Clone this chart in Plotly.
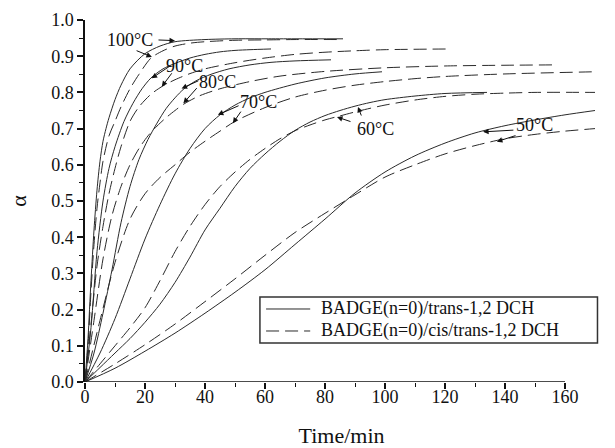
import plotly.graph_objects as go

# Degree of cure alpha versus time for two curing systems at six temperatures
temperatures = ["100°C", "90°C", "80°C", "70°C", "60°C", "50°C"]
series_names = ["BADGE(n=0)/trans-1,2 DCH", "BADGE(n=0)/cis/trans-1,2 DCH"]

# trans-1,2 DCH system (solid lines)
t_s100 = [0, 1, 2, 3, 4, 5, 6, 7, 8, 10, 12, 15, 20, 25, 30, 40, 50, 60, 70, 86]
a_s100 = [0, 0.12, 0.28, 0.42, 0.53, 0.61, 0.665, 0.7, 0.73, 0.78, 0.82, 0.865, 0.907, 0.928, 0.94, 0.946, 0.948, 0.948, 0.948, 0.948]

t_s90 = [0, 2, 4, 6, 8, 10, 13, 16, 19, 22, 26, 30, 35, 40, 45, 50, 55, 62]
a_s90 = [0, 0.15, 0.36, 0.5, 0.59, 0.65, 0.72, 0.77, 0.81, 0.84, 0.865, 0.88, 0.895, 0.905, 0.912, 0.916, 0.918, 0.92]

t_s80 = [0, 3, 6, 9, 12, 15, 18, 21, 24, 27, 30, 33, 37, 42, 48, 55, 62, 70, 82]
a_s80 = [0, 0.08, 0.19, 0.31, 0.44, 0.54, 0.615, 0.67, 0.715, 0.755, 0.785, 0.81, 0.832, 0.85, 0.865, 0.876, 0.883, 0.887, 0.89]

t_s70 = [0, 5, 10, 15, 20, 25, 30, 35, 40, 45, 50, 55, 60, 70, 80, 90, 99]
a_s70 = [0, 0.08, 0.175, 0.285, 0.395, 0.49, 0.575, 0.645, 0.7, 0.738, 0.765, 0.785, 0.8, 0.823, 0.84, 0.851, 0.857]

t_s60 = [0, 5, 10, 15, 20, 25, 30, 35, 40, 45, 50, 55, 60, 65, 70, 75, 80, 85, 90, 95, 100, 110, 120, 134]
a_s60 = [0, 0.04, 0.08, 0.12, 0.165, 0.215, 0.275, 0.345, 0.42, 0.48, 0.54, 0.59, 0.63, 0.665, 0.695, 0.718, 0.736, 0.75, 0.762, 0.772, 0.78, 0.79, 0.797, 0.8]

t_s50 = [0, 10, 20, 30, 40, 50, 60, 70, 80, 90, 100, 110, 120, 130, 140, 150, 160, 170]
a_s50 = [0, 0.038, 0.085, 0.135, 0.19, 0.248, 0.31, 0.38, 0.45, 0.522, 0.58, 0.625, 0.66, 0.688, 0.708, 0.724, 0.738, 0.75]

# cis/trans-1,2 DCH system (dashed lines)
t_d100 = [0, 1, 2, 3, 4, 5, 6, 8, 10, 12, 15, 18, 22, 26, 30, 35, 40, 50, 60, 70, 86]
a_d100 = [0, 0.1, 0.25, 0.38, 0.48, 0.55, 0.61, 0.68, 0.72, 0.76, 0.81, 0.85, 0.895, 0.915, 0.928, 0.936, 0.94, 0.944, 0.945, 0.946, 0.946]

t_d90 = [0, 2, 4, 6, 8, 10, 12, 15, 18, 22, 26, 30, 35, 40, 50, 60, 70, 80, 90, 100, 122]
a_d90 = [0, 0.16, 0.32, 0.43, 0.52, 0.59, 0.65, 0.72, 0.76, 0.795, 0.818, 0.835, 0.852, 0.865, 0.882, 0.895, 0.905, 0.911, 0.915, 0.918, 0.92]

t_d80 = [0, 3, 6, 9, 12, 15, 18, 21, 24, 27, 30, 33, 38, 45, 55, 65, 80, 100, 120, 140, 156]
a_d80 = [0, 0.17, 0.34, 0.46, 0.54, 0.6, 0.645, 0.68, 0.707, 0.73, 0.75, 0.768, 0.79, 0.81, 0.83, 0.845, 0.858, 0.868, 0.873, 0.875, 0.876]

t_d70 = [0, 5, 10, 15, 20, 25, 30, 35, 40, 45, 50, 60, 70, 80, 90, 100, 110, 120, 140, 170]
a_d70 = [0, 0.17, 0.33, 0.45, 0.52, 0.565, 0.6, 0.635, 0.665, 0.693, 0.72, 0.758, 0.787, 0.806, 0.82, 0.83, 0.838, 0.844, 0.851, 0.857]

t_d60 = [0, 5, 10, 15, 20, 25, 30, 35, 40, 45, 50, 55, 60, 65, 70, 75, 80, 85, 90, 95, 100, 110, 120, 130, 140, 150, 170]
a_d60 = [0, 0.05, 0.1, 0.15, 0.205, 0.28, 0.36, 0.43, 0.49, 0.54, 0.58, 0.615, 0.645, 0.672, 0.694, 0.71, 0.724, 0.735, 0.746, 0.756, 0.765, 0.779, 0.789, 0.795, 0.798, 0.8, 0.8]

t_d50 = [0, 10, 20, 30, 40, 50, 60, 70, 80, 90, 100, 110, 120, 130, 140, 150, 160, 170]
a_d50 = [0, 0.05, 0.103, 0.16, 0.222, 0.285, 0.35, 0.413, 0.466, 0.517, 0.566, 0.6, 0.63, 0.653, 0.672, 0.684, 0.693, 0.7]

x_ticks = [0, 20, 40, 60, 80, 100, 120, 140, 160]
y_ticks = [0.0, 0.1, 0.2, 0.3, 0.4, 0.5, 0.6, 0.7, 0.8, 0.9, 1.0]

solid_curves = [(t_s100, a_s100), (t_s90, a_s90), (t_s80, a_s80),
                (t_s70, a_s70), (t_s60, a_s60), (t_s50, a_s50)]
dashed_curves = [(t_d100, a_d100), (t_d90, a_d90), (t_d80, a_d80),
                 (t_d70, a_d70), (t_d60, a_d60), (t_d50, a_d50)]

FONT = "'Liberation Serif', 'Times New Roman', serif"
LINE_COLOR = "#2a2a2a"
INK = "#111"
DASH = "13px,6px"

fig = go.Figure()

for group, curves, dash in [(0, solid_curves, "solid"), (1, dashed_curves, DASH)]:
    for t, a in curves:
        fig.add_trace(go.Scatter(
            x=t, y=a, mode="lines",
            line=dict(color=LINE_COLOR, width=1, dash=dash, shape="spline", smoothing=0.8),
            name=series_names[group], showlegend=False, hoverinfo="skip",
        ))

# temperature labels with their pointer arrows (label centre, then tail/tip pairs)
label_specs = [
    ("100°C", (15.0, 0.945), [((24.0, 0.945), (30.0, 0.943)), ((16.7, 0.917), (22.3, 0.898))]),
    ("90°C", (33.3, 0.873), [((28.9, 0.876), (22.2, 0.839)), ((29.3, 0.857), (25.6, 0.816))]),
    ("80°C", (44.3, 0.829), [((38.3, 0.834), (32.2, 0.811)), ((37.7, 0.816), (32.8, 0.770))]),
    ("70°C", (57.7, 0.773), [((51.7, 0.765), (44.3, 0.738)), ((52.3, 0.751), (49.3, 0.715))]),
    ("60°C", (96.7, 0.699), [((92.3, 0.732), (91.0, 0.760)), ((89.0, 0.718), (84.0, 0.732))]),
    ("50°C", (149.7, 0.710), [((143.3, 0.696), (132.7, 0.691)), ((144.0, 0.682), (137.3, 0.664))]),
]

annotations = []
for text, (lx, ly), arrows in label_specs:
    annotations.append(dict(x=lx, y=ly, xref="x", yref="y", text=text, showarrow=False,
                             font=dict(family=FONT, size=18, color=INK)))
    for (tx, ty), (hx, hy) in arrows:
        annotations.append(dict(x=hx, y=hy, ax=tx, ay=ty, xref="x", yref="y",
                                axref="x", ayref="y", text="", showarrow=True,
                                arrowhead=2, arrowsize=1.1, arrowwidth=1,
                                arrowcolor=INK, standoff=0, startstandoff=0))

# legend: framed box with a line sample and text for each curing system
legend_rows = [(series_names[0], "solid", 0.2017), (series_names[1], DASH, 0.1409)]
shapes = [
    # x axis line stops at 160 min while the curves run on past it
    dict(type="line", xref="x", yref="y", x0=0, x1=160, y0=0, y1=0,
         line=dict(color=INK, width=1.5), layer="above"),
    dict(type="rect", xref="paper", yref="paper", x0=0.341, x1=0.999, y0=0.108, y1=0.235,
         line=dict(color="#333", width=1.5), fillcolor="white", layer="above"),
]
for name, dash, yrow in legend_rows:
    shapes.append(dict(type="line", xref="paper", yref="paper", x0=0.353, x1=0.439,
                       y0=yrow, y1=yrow, line=dict(color=LINE_COLOR, width=1, dash=dash),
                       layer="above"))
    annotations.append(dict(x=0.456, y=yrow, xref="paper", yref="paper", text=name,
                            showarrow=False, xanchor="left", yanchor="middle",
                            font=dict(family=FONT, size=18, color=INK)))

fig.update_layout(
    width=615, height=448,
    margin=dict(l=85, r=17, t=20, b=66, autoexpand=False),
    paper_bgcolor="white", plot_bgcolor="white",
    font=dict(family=FONT, size=18, color=INK),
    showlegend=False,
    annotations=annotations,
    shapes=shapes,
)

fig.update_xaxes(
    range=[0, 171], tickvals=x_ticks, ticktext=[str(v) for v in x_ticks],
    ticks="outside", ticklen=6, tickwidth=1.5, tickcolor=INK,
    minor=dict(tickvals=[10, 30, 50, 70, 90, 110, 130, 150], ticks="outside",
               ticklen=4, tickwidth=1.2, tickcolor=INK),
    showline=False, showgrid=False, zeroline=False, automargin=False,
    ticklabelstandoff=-8,
    tickfont=dict(family=FONT, size=18, color=INK),
    title=dict(text="Time/min", font=dict(family=FONT, size=22, color=INK), standoff=24),
)
fig.update_yaxes(
    range=[0, 1.0], tickvals=y_ticks, ticktext=[f"{v:.1f}" for v in y_ticks],
    ticks="outside", ticklen=6, tickwidth=1.5, tickcolor=INK,
    minor=dict(tickvals=[0.05 + 0.1 * k for k in range(10)], ticks="outside",
               ticklen=4, tickwidth=1.2, tickcolor=INK),
    showline=True, linecolor=INK, linewidth=1.5, mirror=False,
    showgrid=False, zeroline=False, automargin=False,
    tickfont=dict(family=FONT, size=18, color=INK),
    title=dict(text="α", font=dict(family=FONT, size=22, color=INK), standoff=18),
)

fig.write_html("out.html")
